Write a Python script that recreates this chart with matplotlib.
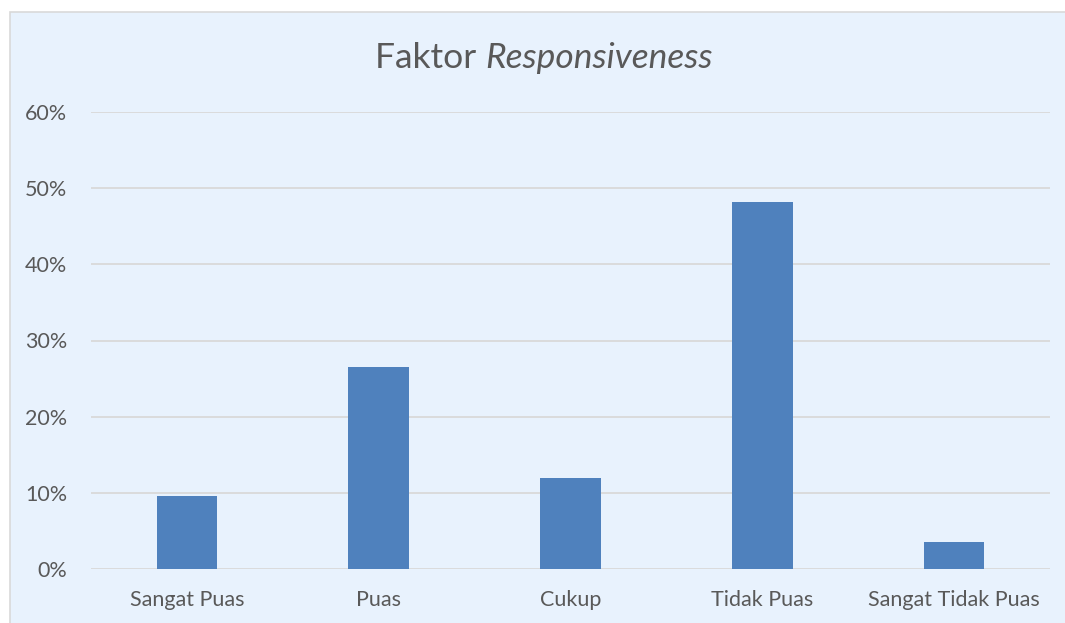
import matplotlib.pyplot as plt
import numpy as np
from matplotlib.patches import Rectangle
from matplotlib.ticker import PercentFormatter

categories = ["Sangat Puas", "Puas", "Cukup", "Tidak Puas", "Sangat Tidak Puas"]
values = [9.6, 26.5, 12.0, 48.2, 3.6]
y_ticks = [0, 10, 20, 30, 40, 50, 60]

plt.rcParams["font.family"] = ["Lato", "DejaVu Sans"]
text_col = "#595959"
bg_col = "#E8F2FD"

fig = plt.figure(figsize=(10.65, 6.23), dpi=100)
fig.patch.set_facecolor("white")

# chart area frame (cropped screenshot: starts a little below / right of the edge)
bg = fig.add_axes([0, 0, 1, 1], zorder=0)
bg.set_xlim(0, 1065)
bg.set_ylim(623, 0)
bg.axis("off")
bg.add_patch(Rectangle((10, 12), 1065, 623, facecolor=bg_col, edgecolor="#D9D9D9",
                       linewidth=1.2))

ax = fig.add_axes([91 / 1065, 1 - 569 / 623, (1050 - 91) / 1065, (569 - 112) / 623], zorder=2)
ax.set_facecolor("none")
x = np.arange(len(categories))
ax.bar(x, values, width=0.315, color="#4F81BD", zorder=3)

ax.set_xlim(-0.5, len(categories) - 0.5)
ax.set_ylim(0, 60)
ax.set_yticks(y_ticks)
ax.yaxis.set_major_formatter(PercentFormatter(decimals=0))
ax.set_xticks(x)
ax.set_xticklabels(categories)
ax.grid(axis="y", color="#D9D9D9", linewidth=1.3, zorder=0)
for s in ax.spines.values():
    s.set_visible(False)
ax.tick_params(axis="both", length=0, labelsize=15.5, colors=text_col)
ax.tick_params(axis="x", pad=15)
ax.tick_params(axis="y", pad=17)

fig.text(0.456, 1 - 58 / 623, "Faktor ", ha="right", va="center", fontsize=25.5,
         color=text_col, zorder=3)
fig.text(0.456, 1 - 58 / 623, "Responsiveness", ha="left", va="center", fontsize=25.5,
         color=text_col, style="italic", zorder=3)

fig.savefig("out.png", dpi=100, facecolor=fig.get_facecolor())
